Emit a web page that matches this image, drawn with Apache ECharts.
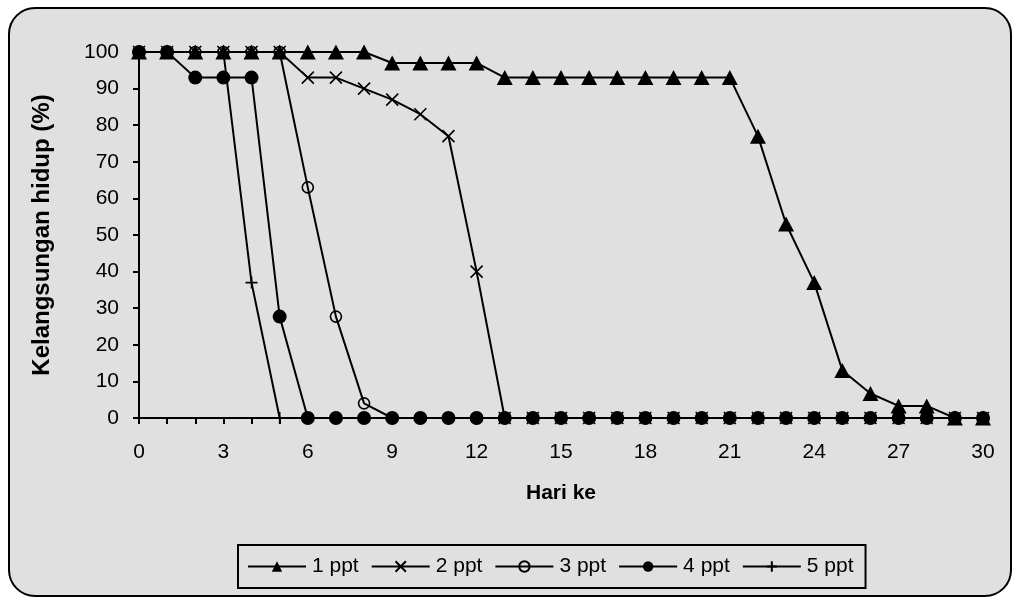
<!DOCTYPE html>
<html>
<head>
<meta charset="utf-8">
<script src="https://cdn.jsdelivr.net/npm/echarts@6/dist/echarts.min.js"></script>
<style>
  html, body { margin: 0; padding: 0; background: #ffffff; }
  #chart { width: 1013px; height: 597px; }
</style>
</head>
<body>
<div id="chart"></div>
<script>
// Days of observation (Hari ke)
const days = [0,1,2,3,4,5,6,7,8,9,10,11,12,13,14,15,16,17,18,19,20,21,22,23,24,25,26,27,28,29,30];
const xTickLabels = [0,3,6,9,12,15,18,21,24,27,30];
const yTickLabels = [0,10,20,30,40,50,60,70,80,90,100];

// Survival (%) per salinity treatment
const survival1ppt = [100,100,100,100,100,100,100,100,100,97,97,97,97,93,93,93,93,93,93,93,93,93,77,53,37,13,6.7,3.3,3.3,0,0];
const survival2ppt = [100,100,100,100,100,100,93,93,90,87,83,77,40,0,0,0,0,0,0,0,0,0,0,0,0,0,0,0,0,0,0];
const survival3ppt = [100,100,100,100,100,100,63,27.7,4,0,0,0,0,0,0,0,0,0,0,0,0,0,0,0,0,0,0,0,0,0,0];
const survival4ppt = [100,100,93,93,93,27.7,0,0,0,0,0,0,0,0,0,0,0,0,0,0,0,0,0,0,0,0,0,0,0,0,0];
const survival5ppt = [100,100,100,100,37,0];

const seriesNames = ['1 ppt','2 ppt','3 ppt','4 ppt','5 ppt'];

const pairs = vals => vals.map((v, i) => [days[i], v]);

const INK = '#000000';
const FONT = '"Liberation Sans", Arial, sans-serif';

const lineBase = {
  type: 'line',
  showAllSymbol: true,
  animation: false,
  lineStyle: { color: INK, width: 2 },
  emphasis: { disabled: true }
};

const chart = echarts.init(document.getElementById('chart'), null, { renderer: 'canvas' });

chart.setOption({
  backgroundColor: '#ffffff',
  textStyle: { fontFamily: FONT, color: INK },
  graphic: [{
    type: 'rect',
    z: -10,
    silent: true,
    shape: { x: 9, y: 8, width: 1002, height: 588, r: 26 },
    style: { fill: '#e0e0e0', stroke: INK, lineWidth: 2 }
  }],
  grid: { left: 139, right: 30, top: 52, bottom: 179, containLabel: false },
  legend: {
    data: seriesNames,
    left: 238,
    top: 545,
    width: 641,
    height: 46,
    padding: [11, 12, 11, 9],
    itemGap: 12,
    itemWidth: 58,
    itemHeight: 13,
    borderColor: INK,
    borderWidth: 2,
    textStyle: { fontFamily: FONT, fontSize: 21, color: INK, padding: [0, 0, 0, 1] },
    selectedMode: false
  },
  xAxis: {
    type: 'value',
    min: 0,
    max: 30,
    interval: 1,
    name: 'Hari ke',
    nameLocation: 'middle',
    nameGap: 65,
    nameTextStyle: { fontFamily: FONT, fontSize: 21, fontWeight: 'bold', color: INK },
    axisLine: { onZero: false, lineStyle: { color: INK, width: 2 } },
    axisTick: { show: true, length: 6, inside: false, lineStyle: { color: INK, width: 2 } },
    axisLabel: {
      margin: 24,
      fontSize: 21,
      color: INK,
      fontFamily: FONT,
      formatter: v => (xTickLabels.indexOf(v) >= 0 ? String(v) : '')
    },
    splitLine: { show: false }
  },
  yAxis: {
    type: 'value',
    min: 0,
    max: 100,
    interval: 10,
    name: 'Kelangsungan hidup (%)',
    nameLocation: 'middle',
    nameGap: 85,
    nameRotate: 90,
    nameTextStyle: { fontFamily: FONT, fontSize: 24, fontWeight: 'bold', color: INK },
    axisLine: { show: true, lineStyle: { color: INK, width: 2 } },
    axisTick: { show: true, length: 6, inside: false, lineStyle: { color: INK, width: 2 } },
    axisLabel: {
      margin: 20,
      fontSize: 21,
      color: INK,
      fontFamily: FONT,
      formatter: v => (yTickLabels.indexOf(v) >= 0 ? String(v) : '')
    },
    splitLine: { show: false }
  },
  series: [
    Object.assign({}, lineBase, {
      name: seriesNames[0],
      data: pairs(survival1ppt),
      symbol: 'triangle',
      symbolSize: [16, 15],
      itemStyle: { color: INK }
    }),
    Object.assign({}, lineBase, {
      name: seriesNames[1],
      data: pairs(survival2ppt),
      symbol: 'path://M0,0L10,10M10,0L0,10',
      symbolSize: 12,
      itemStyle: { color: 'rgba(0,0,0,0)', borderColor: INK, borderWidth: 1.6 }
    }),
    Object.assign({}, lineBase, {
      name: seriesNames[2],
      data: pairs(survival3ppt),
      symbol: 'circle',
      symbolSize: 11,
      itemStyle: { color: 'rgba(0,0,0,0)', borderColor: INK, borderWidth: 1.6 }
    }),
    Object.assign({}, lineBase, {
      name: seriesNames[3],
      data: pairs(survival4ppt),
      symbol: 'circle',
      symbolSize: 14,
      itemStyle: { color: INK }
    }),
    Object.assign({}, lineBase, {
      name: seriesNames[4],
      data: pairs(survival5ppt),
      symbol: 'path://M5,0L5,10M0,5L10,5',
      symbolSize: 12,
      itemStyle: { color: 'rgba(0,0,0,0)', borderColor: INK, borderWidth: 1.6 }
    })
  ]
});
</script>
</body>
</html>
